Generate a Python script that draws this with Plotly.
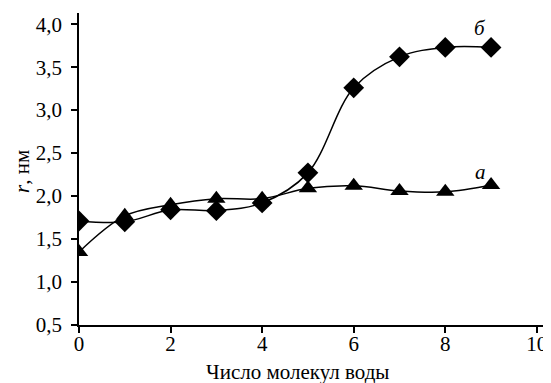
import plotly.graph_objects as go

x_vals = [0, 1, 2, 3, 4, 5, 6, 7, 8, 9]
series_a = [1.35, 1.77, 1.90, 1.97, 1.97, 2.09, 2.12, 2.06, 2.05, 2.13]
series_b = [1.71, 1.70, 1.84, 1.83, 1.92, 2.27, 3.26, 3.62, 3.73, 3.73]
x_ticks = [0, 2, 4, 6, 8, 10]
y_ticks = [0.5, 1.0, 1.5, 2.0, 2.5, 3.0, 3.5, 4.0]
label_a = "а"
label_b = "б"
x_title = "Число молекул воды"
y_title = "<i>r</i>, нм"

font_family = "'Times New Roman', 'Liberation Serif', 'DejaVu Serif', serif"
fs = 21

fig = go.Figure()
fig.add_trace(go.Scatter(
    x=x_vals, y=series_b, mode="lines+markers",
    line=dict(color="black", width=1.5, shape="spline", smoothing=1.0),
    marker=dict(symbol="diamond", size=16, color="black"),
    showlegend=False))
fig.add_trace(go.Scatter(
    x=x_vals, y=series_a, mode="lines+markers",
    line=dict(color="black", width=1.5, shape="spline", smoothing=1.0),
    marker=dict(symbol="triangle-up", size=16, color="black"),
    showlegend=False))

fig.add_annotation(x=9, y=series_b[-1], text="<i>" + label_b + "</i>", showarrow=False,
                   xshift=-11, yshift=19, font=dict(size=fs, family=font_family, color="black"))
fig.add_annotation(x=9, y=series_a[-1], text="<i>" + label_a + "</i>", showarrow=False,
                   xshift=-11, yshift=13, font=dict(size=fs, family=font_family, color="black"))

fig.add_annotation(xref="paper", yref="paper", x=0.5, y=0, yshift=-33, xshift=-15,
                   text=x_title, showarrow=False, yanchor="top",
                   font=dict(size=fs, family=font_family, color="black"))
fig.add_annotation(xref="paper", yref="paper", x=0, y=0.5, xshift=-57, yshift=-3,
                   text=y_title, showarrow=False, textangle=-90, xanchor="center",
                   font=dict(size=fs, family=font_family, color="black"))

fig.update_layout(
    width=543, height=375,
    margin=dict(l=71, r=5, t=5, b=58),
    paper_bgcolor="white", plot_bgcolor="white",
    separators=", ",
    font=dict(family=font_family, size=fs, color="black"),
    xaxis=dict(range=[0, 10.2], tickvals=x_ticks, ticks="outside", ticklen=6,
               tickwidth=1.5, tickcolor="black", showline=True, linecolor="black",
               linewidth=1.5, showgrid=False, zeroline=False, automargin=False,
               ticklabelstandoff=-7,
               tickfont=dict(family=font_family, size=fs)),
    yaxis=dict(range=[0.5, 4.13], tickvals=y_ticks, tickformat=".1f", ticks="outside",
               ticklen=6, tickwidth=1.5, tickcolor="black", showline=True,
               linecolor="black", linewidth=1.5, showgrid=False, zeroline=False,
               automargin=False, ticklabelstandoff=5,
               tickfont=dict(family=font_family, size=fs)),
)

fig.write_html("out.html")
